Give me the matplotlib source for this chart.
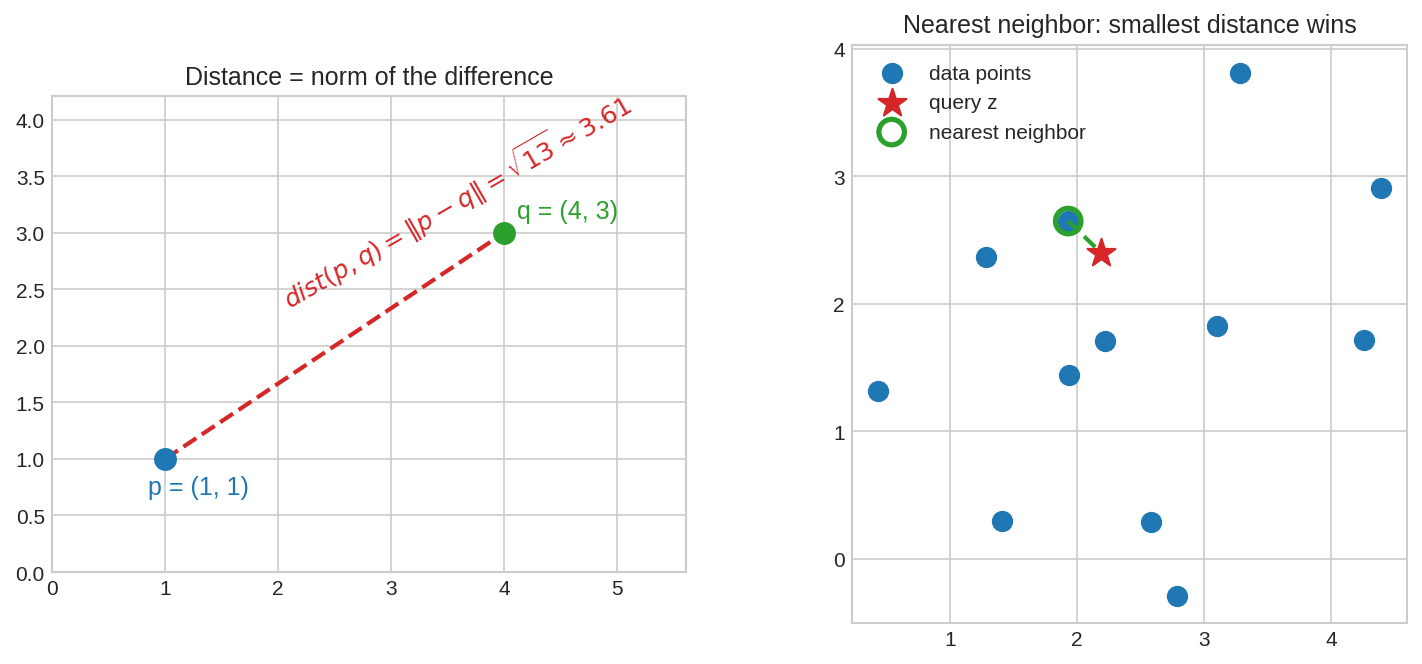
import numpy as np
import matplotlib
matplotlib.use('Agg')
import matplotlib.pyplot as plt

# left panel: two points
p = [1, 1]
q = [4, 3]
dist_pq = np.sqrt((q[0] - p[0]) ** 2 + (q[1] - p[1]) ** 2)

# right panel: data points and query
data_x = [0.43, 1.28, 1.41, 1.94, 1.93, 2.22, 2.58, 2.79, 3.10, 3.28, 4.26, 4.39]
data_y = [1.32, 2.37, 0.30, 1.44, 2.65, 1.71, 0.29, -0.29, 1.83, 3.81, 1.72, 2.91]
query = [2.19, 2.40]

plt.style.use('seaborn-v0_8-whitegrid')
plt.rcParams['font.family'] = ['Liberation Sans', 'DejaVu Sans']
plt.rcParams['xtick.labelsize'] = 10
plt.rcParams['ytick.labelsize'] = 10

fig = plt.figure(figsize=(9.48, 4.4333), dpi=150)

ax1 = fig.add_axes([0.0366, 0.1383, 0.4459, 0.7158])
ax1.plot([p[0], q[0]], [p[1], q[1]], '--', color='tab:red', linewidth=2, zorder=2)
ax1.scatter([p[0]], [p[1]], s=100, color='tab:blue', zorder=3)
ax1.scatter([q[0]], [q[1]], s=100, color='tab:green', zorder=3)
ax1.text(0.85, 0.75, 'p = (1, 1)', color='tab:blue', fontsize=12, ha='left', va='center')
ax1.text(4.11, 3.19, 'q = (4, 3)', color='tab:green', fontsize=12, ha='left', va='center')
ax1.text(3.58, 3.29, r'$dist(p,q) = \|p-q\| = \sqrt{13} \approx %.2f$' % dist_pq,
         color='tab:red', fontsize=12, rotation=30, rotation_mode='anchor',
         ha='center', va='center')
ax1.set_xlim(0, 5.61)
ax1.set_ylim(0, 4.21)
ax1.set_title('Distance = norm of the difference', fontsize=12)

# nearest neighbour
d = [np.hypot(x - query[0], y - query[1]) for x, y in zip(data_x, data_y)]
i = int(np.argmin(d))

ax2 = fig.add_axes([0.5992, 0.0617, 0.3903, 0.8692])
ax2.scatter(data_x, data_y, s=85, color='tab:blue', label='data points', zorder=2)
ax2.scatter([query[0]], [query[1]], s=200, marker='*', color='tab:red', label='query z', zorder=4)
ax2.scatter([data_x[i]], [data_y[i]], s=150, facecolors='none', edgecolors='tab:green',
            linewidths=2.5, label='nearest neighbor', zorder=3)
ax2.plot([data_x[i], query[0]], [data_y[i], query[1]], '--', color='tab:green', linewidth=2, zorder=3)
ax2.set_xlim(0.228, 4.598)
ax2.set_ylim(-0.502, 4.031)
ax2.set_xticks([1, 2, 3, 4])
ax2.set_yticks([0, 1, 2, 3, 4])
ax2.legend(loc='upper left', fontsize=10)
ax2.set_title('Nearest neighbor: smallest distance wins', fontsize=12)

fig.savefig('out.png', dpi=150)
